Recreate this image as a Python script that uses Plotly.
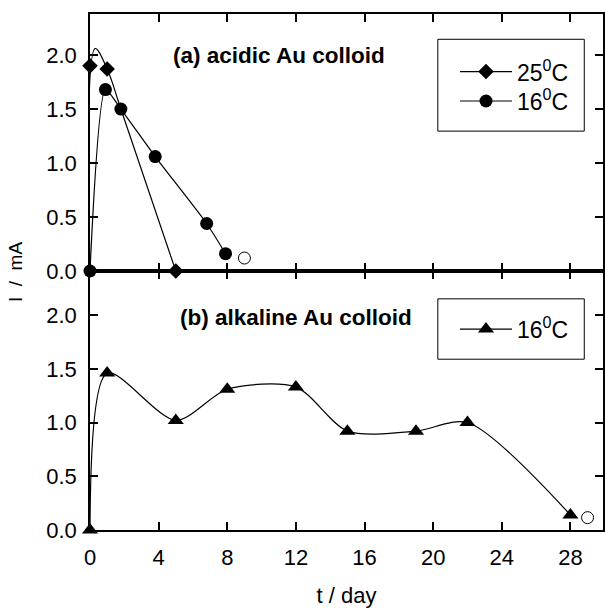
import plotly.graph_objects as go

# ---- data ----
# (a) acidic Au colloid, 25 °C
t25 = [0, 1, 5]
i25 = [1.9, 1.87, 0.0]
fit25_t = [0, 0.3, 1, 1.8, 5]
fit25_i = [0.0, 2.06, 1.87, 1.5, 0.0]
# (a) acidic Au colloid, 16 °C
t16a = [0, 0.9, 1.8, 3.8, 6.8, 7.9]
i16a = [0.0, 1.68, 1.5, 1.06, 0.44, 0.16]
open_a_t = [9.0]
open_a_i = [0.12]
# (b) alkaline Au colloid, 16 °C
t16b = [0, 1, 5, 8, 12, 15, 19, 22, 28]
i16b = [0.0, 1.46, 1.02, 1.31, 1.33, 0.92, 0.92, 1.0, 0.14]
open_b_t = [29.0]
open_b_i = [0.115]

xticks = [0, 4, 8, 12, 16, 20, 24, 28]
yticks = [0.0, 0.5, 1.0, 1.5, 2.0]

FONT = "Liberation Sans, Arial, sans-serif"
BLACK = "black"
SPLIT = 259 / 516

fig = go.Figure()

# top panel
fig.add_trace(go.Scatter(x=fit25_t, y=fit25_i, mode="lines", line=dict(color=BLACK, width=1.2, shape="spline", smoothing=1),
                         xaxis="x2", yaxis="y2", showlegend=False, hoverinfo="skip", cliponaxis=False))
fig.add_trace(go.Scatter(x=t25, y=i25, mode="markers", marker=dict(symbol="diamond", size=12, color=BLACK),
                         xaxis="x2", yaxis="y2", showlegend=False, cliponaxis=False))
fig.add_trace(go.Scatter(x=[None], y=[None], mode="lines+markers", name="25<sup>0</sup>C",
                         line=dict(color=BLACK, width=1.2), marker=dict(symbol="diamond", size=12, color=BLACK),
                         xaxis="x2", yaxis="y2", legend="legend"))
fig.add_trace(go.Scatter(x=t16a, y=i16a, mode="lines+markers", name="16<sup>0</sup>C",
                         line=dict(color=BLACK, width=1.2, shape="spline", smoothing=0.6),
                         marker=dict(symbol="circle", size=13, color=BLACK),
                         xaxis="x2", yaxis="y2", legend="legend3", cliponaxis=False))
fig.add_trace(go.Scatter(x=open_a_t, y=open_a_i, mode="markers",
                         marker=dict(symbol="circle", size=12, color="white", line=dict(color=BLACK, width=1)),
                         xaxis="x2", yaxis="y2", showlegend=False, cliponaxis=False))

# bottom panel
fig.add_trace(go.Scatter(x=t16b, y=i16b, mode="lines+markers", name="16<sup>0</sup>C",
                         line=dict(color=BLACK, width=1.2, shape="spline", smoothing=0.8),
                         marker=dict(symbol="triangle-up", size=14, color=BLACK),
                         xaxis="x", yaxis="y", legend="legend2", cliponaxis=False))
fig.add_trace(go.Scatter(x=open_b_t, y=open_b_i, mode="markers",
                         marker=dict(symbol="circle", size=12, color="white", line=dict(color=BLACK, width=1)),
                         xaxis="x", yaxis="y", showlegend=False, cliponaxis=False))

axis_common = dict(showline=True, linecolor=BLACK, linewidth=1.5, mirror="ticks", ticks="inside",
                   ticklen=8, tickwidth=1.5, tickcolor=BLACK, showgrid=False, zeroline=False,
                   automargin=False, ticklabelstandoff=7,
                   tickfont=dict(family=FONT, size=22, color=BLACK))

legend_common = dict(xanchor="left", yanchor="top", borderwidth=0, bgcolor="rgba(0,0,0,0)",
                     font=dict(family=FONT, size=23, color=BLACK), itemwidth=52, tracegroupgap=0)

fig.update_layout(
    width=605, height=616,
    margin=dict(l=90, r=2, t=14, b=86),
    paper_bgcolor="white", plot_bgcolor="white",
    font=dict(family=FONT, color=BLACK),
    xaxis=dict(**axis_common, domain=[0, 1], range=[0, 29.9], anchor="y", tickvals=xticks,
               title=dict(text="t / day", font=dict(family=FONT, size=22, color=BLACK), standoff=18)),
    xaxis2=dict(**axis_common, domain=[0, 1], range=[0, 29.9], anchor="y2", tickvals=xticks,
                showticklabels=False, matches="x"),
    yaxis=dict(**axis_common, domain=[0, SPLIT], range=[0, 2.41], anchor="x", tickvals=yticks,
               tickformat=".1f"),
    yaxis2=dict(**axis_common, domain=[SPLIT, 1], range=[0, 2.38], anchor="x2", tickvals=yticks,
                tickformat=".1f"),
    legend=dict(**legend_common, x=0.7115, y=0.930),
    legend3=dict(**legend_common, x=0.7115, y=0.873),
    legend2=dict(**legend_common, x=0.7115, y=0.431),
    showlegend=True,
    shapes=[
        dict(type="rect", xref="paper", yref="paper", x0=0.678, x1=0.9635, y0=0.773, y1=0.951,
             line=dict(color=BLACK, width=1), fillcolor="rgba(0,0,0,0)", layer="below"),
        dict(type="rect", xref="paper", yref="paper", x0=0.678, x1=0.9635, y0=0.331, y1=0.448,
             line=dict(color=BLACK, width=1), fillcolor="rgba(0,0,0,0)", layer="below"),
    ],
    annotations=[
        dict(text="<b>(a) acidic Au colloid</b>", x=11.0, y=2.0, xref="x2", yref="y2", showarrow=False,
             xanchor="center", yanchor="middle", font=dict(family=FONT, size=22.5, color=BLACK)),
        dict(text="<b>(b) alkaline Au colloid</b>", x=12.0, y=1.98, xref="x", yref="y", showarrow=False,
             xanchor="center", yanchor="middle", font=dict(family=FONT, size=22.5, color=BLACK)),
        dict(text="I\u00a0\u00a0/\u00a0\u00a0mA", x=-0.146, y=0.5, xref="paper", yref="paper", showarrow=False,
             textangle=-90, xanchor="center", yanchor="middle", font=dict(family=FONT, size=19, color=BLACK)),
    ],
)

fig.write_html("out.html", config={"displayModeBar": False},
               post_script="document.body.style.margin='0px';document.body.style.overflow='hidden';")
